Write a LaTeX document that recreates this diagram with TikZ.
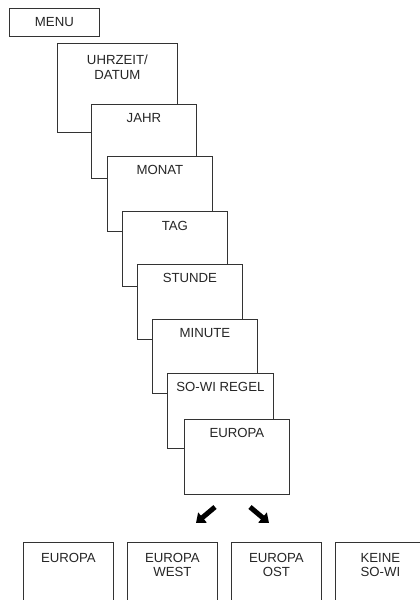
\documentclass[tikz,border=0pt]{standalone}
\usepackage{fontspec}
\setmainfont{Liberation Sans}
\usetikzlibrary{arrows.meta}
\tikzset{
  card/.style={draw=black!80, fill=white, line width=0.8pt, anchor=north west,
    inner sep=0pt, minimum width=105pt, minimum height=75pt},
  cardtext/.style={anchor=north, inner sep=0pt, align=center, text=black!85,
    font=\fontsize{13.2}{14.5}\selectfont},
  pick/.style={line width=5pt, -{Triangle[width=13pt,length=8.5pt]}}
}
\begin{document}
\begin{tikzpicture}[x=1pt, y=-1pt]
      \useasboundingbox (0,0) rectangle (420,600);
      \clip (0,0) rectangle (420,600);
      \node[card, minimum width=90pt, minimum height=28pt] (menu) at (9,8) {};
      \node[cardtext] (menutext) at ([yshift=-9pt]menu.north) {MENU};
      \node[card, minimum width=120pt, minimum height=89pt] (uhrzeit) at (57,43) {};
      \node[cardtext] (uhrzeittext) at ([yshift=-12pt]uhrzeit.north) {UHRZEIT/\\DATUM};
      \node[card, minimum height=74pt] (jahr) at (91,104) {};
      \node[cardtext] (jahrtext) at ([yshift=-9pt]jahr.north) {JAHR};
      \node[card] (monat) at (107,156) {};
      \node[cardtext] (monattext) at ([yshift=-9pt]monat.north) {MONAT};
      \node[card] (tag) at (122,211) {};
      \node[cardtext] (tagtext) at ([yshift=-10pt]tag.north) {TAG};
      \node[card] (stunde) at (137,264) {};
      \node[cardtext] (stundetext) at ([yshift=-9pt]stunde.north) {STUNDE};
      \node[card, minimum height=74pt] (minute) at (152,319) {};
      \node[cardtext] (minutetext) at ([yshift=-9pt]minute.north) {MINUTE};
      \node[card, minimum width=106pt] (sowi) at (167,373) {};
      \node[cardtext] (sowitext) at ([yshift=-9pt]sowi.north) {SO-WI REGEL};
      \node[card] (europa) at (184,419) {};
      \node[cardtext] (europatext) at ([yshift=-9pt]europa.north) {EUROPA};
      \coordinate (leftfrom) at (215,507);
      \coordinate (leftto) at (196,523);
      \coordinate (rightfrom) at (250,507);
      \coordinate (rightto) at (269,523);
      \begin{scope}[pick]
        \draw (leftfrom) to (leftto);
        \draw (rightfrom) to (rightto);
      \end{scope}
      \node[card, minimum width=90pt, minimum height=70pt] (eu) at (23,542) {};
      \node[cardtext] (eutext) at ([yshift=-11pt]eu.north) {EUROPA};
      \node[card, minimum width=90pt, minimum height=70pt] (euwest) at (127,542) {};
      \node[cardtext] (euwesttext) at ([yshift=-11pt]euwest.north) {EUROPA\\WEST};
      \node[card, minimum width=90pt, minimum height=70pt] (euost) at (231,542) {};
      \node[cardtext] (euosttext) at ([yshift=-11pt]euost.north) {EUROPA\\OST};
      \node[card, minimum width=90pt, minimum height=70pt] (keine) at (335,542) {};
      \node[cardtext] (keinetext) at ([yshift=-11pt]keine.north) {KEINE\\SO-WI};
    \end{tikzpicture}
\end{document}
